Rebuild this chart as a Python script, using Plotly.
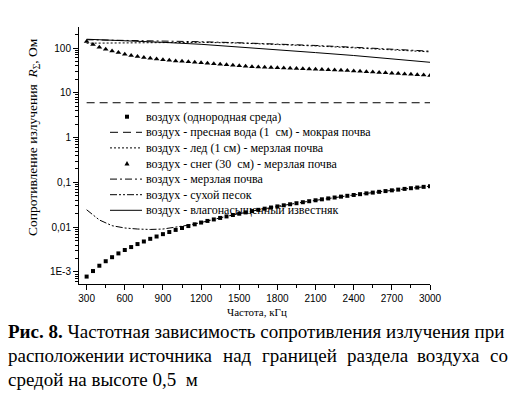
import plotly.graph_objects as go

# ---------------- data ----------------
freq_fine = list(range(300, 3001, 50))          # kHz, marker series
freq_line = [300, 600, 900, 1200, 1500, 1800, 2100, 2400, 2700, 3000]

air_homog = [0.00079, 0.00105, 0.00138, 0.00174, 0.00214, 0.0026, 0.0031, 0.0036, 0.0042, 0.0048,
             0.0055, 0.0062, 0.0070, 0.0078, 0.0087, 0.0096, 0.0106, 0.0116, 0.0127, 0.0138,
             0.0149, 0.0161, 0.0174, 0.0187, 0.0200, 0.0214, 0.0229, 0.0244, 0.0259, 0.0275,
             0.0291, 0.0308, 0.0325, 0.0343, 0.0361, 0.0380, 0.0399, 0.0419, 0.0439, 0.0460,
             0.0481, 0.0502, 0.0524, 0.0546, 0.0569, 0.0592, 0.0616, 0.0640, 0.0665, 0.0690,
             0.0716, 0.0742, 0.0768, 0.0795, 0.0822]

air_snow = [140, 120, 104, 94, 86, 79, 73, 68, 64.5, 61.5,
            59, 57, 55, 53, 51.4, 50.6, 49.6, 48, 46.9, 45.7,
            44.6, 43.4, 42.4, 41.3, 40.2, 39.2, 38.4, 37.8, 37.2, 36.9,
            36.3, 35.9, 35.4, 35.0, 34.5, 34.1, 33.7, 33.3, 32.8, 32.4,
            31.8, 31.3, 30.8, 30.1, 29.6, 29.1, 28.5, 27.9, 27.5, 26.9,
            26.4, 25.9, 25.4, 24.9, 24.4]

air_water = [6.0, 6.0, 6.0, 6.0, 6.0, 6.0, 6.0, 6.0, 6.0, 6.0]
air_ice = [128, 131, 133, 134, 129, 121, 111, 101, 91, 82]
air_frozen = [153, 149, 144, 138, 131, 123, 114, 104, 94, 85]
air_limestone = [157, 146, 134, 121, 106, 92, 79, 68, 57, 48]

freq_sand = [300, 350, 400, 500, 600, 700, 800, 900, 1000, 1100, 1200, 1300, 1400, 1500,
             1600, 1700, 1800, 2000, 2200, 2400, 2600, 2800, 3000]
air_sand = [0.0245, 0.0185, 0.0145, 0.0108, 0.0096, 0.0091, 0.0089, 0.0091, 0.0099, 0.0111,
            0.0127, 0.0150, 0.0175, 0.0201, 0.0229, 0.0259, 0.0292, 0.0362, 0.0441, 0.0525,
            0.0616, 0.0718, 0.0825]

names = ["воздух (однородная среда)",
         "воздух - пресная вода (1  см) - мокрая почва",
         "воздух - лед (1 см) - мерзлая почва",
         "воздух - снег (30  см) - мерзлая почва",
         "воздух - мерзлая почва",
         "воздух - сухой песок",
         "воздух - влагонасыщенный известняк"]

y_tickvals = [0.001, 0.01, 0.1, 1, 10, 100]
y_ticktext = ["1E-3", "0,01", "0,1", "1", "10", "100"]
x_tickvals = [300, 600, 900, 1200, 1500, 1800, 2100, 2400, 2700, 3000]

caption1 = "<b>Рис. 8.</b> Частотная зависимость сопротивления излучения при"
caption2_words = ["расположении", "источника", "над", "границей", "раздела", "воздуха", "со"]
caption3 = "средой на высоте 0,5  м"

# ---------------- figure ----------------
SERIF = "Liberation Serif, Times New Roman, serif"
SANS = "Liberation Sans, Arial, sans-serif"
K = "black"

L, R, T, B = 79, 82, 27, 115
W, H = 512, 399
PW, PH = W - L - R, H - T - B

def px_x(p):
    return (p - L) / PW

def px_y(p):
    return (H - B - p) / PH

styles = [
    dict(kind="marker", symbol="square", size=4),
    dict(kind="line", dash="8px,5px"),
    dict(kind="line", dash="2px,2px"),
    dict(kind="marker", symbol="triangle-up", size=5),
    dict(kind="line", dash="7px,3px,2px,3px"),
    dict(kind="line", dash="7px,2px,2px,2px,2px,2px"),
    dict(kind="line", dash="solid"),
]
xs = [freq_fine, freq_line, freq_line, freq_fine, freq_line, freq_sand, freq_line]
ys = [air_homog, air_water, air_ice, air_snow, air_frozen, air_sand, air_limestone]

fig = go.Figure()
for name, st, x, y in zip(names, styles, xs, ys):
    if st["kind"] == "marker":
        fig.add_trace(go.Scatter(x=x, y=y, mode="markers", name=name, showlegend=False,
                                 marker=dict(symbol=st["symbol"], size=st["size"], color=K)))
    else:
        fig.add_trace(go.Scatter(x=x, y=y, mode="lines", name=name, showlegend=False,
                                 line=dict(color=K, width=1, dash=st["dash"])))

fig.update_layout(
    width=W, height=H,
    margin=dict(l=L, r=R, t=T, b=B, pad=0),
    paper_bgcolor="white", plot_bgcolor="white",
    showlegend=False,
    font=dict(family=SERIF, color=K),
)
fig.update_xaxes(range=[240, 3000], showline=True, linecolor=K, linewidth=1,
                 showgrid=False, zeroline=False, mirror=False,
                 ticks="outside", ticklen=5, tickcolor=K, tickwidth=1,
                 tickmode="array", tickvals=x_tickvals,
                 tickfont=dict(family=SANS, size=10, color=K),
                 minor=dict(ticks="outside", ticklen=3, tickcolor=K, tickwidth=1,
                            tickmode="array",
                            tickvals=[450, 750, 1050, 1350, 1650, 1950, 2250, 2550, 2850]))
minor_y = [m * 10 ** e for e in range(-4, 3) for m in range(2, 10)]
fig.update_yaxes(type="log", range=[-3.268, 2.469], showline=True, linecolor=K, linewidth=1,
                 showgrid=False, zeroline=False, mirror=False,
                 ticks="outside", ticklen=5, tickcolor=K, tickwidth=1,
                 tickmode="array", tickvals=y_tickvals, ticktext=y_ticktext,
                 tickfont=dict(family=SANS, size=10, color=K),
                 minor=dict(ticks="outside", ticklen=3, tickcolor=K, tickwidth=1,
                            tickmode="array", tickvals=minor_y))

# ---- legend (drawn as text + sample symbols, inside the plot) ----
ann = []
shapes = []
SYM_X0, SYM_X1, TXT_X = 110, 142, 144
for i, (name, st) in enumerate(zip(names, styles)):
    yc = 116.7 + 15.6 * i
    ann.append(dict(text=name, xref="paper", yref="paper", x=px_x(TXT_X), y=px_y(yc),
                    xanchor="left", yanchor="middle", showarrow=False,
                    font=dict(family=SERIF, size=12, color=K)))
    if st["kind"] == "line":
        shapes.append(dict(type="line", xref="paper", yref="paper",
                           x0=px_x(SYM_X0), x1=px_x(SYM_X1), y0=px_y(yc), y1=px_y(yc),
                           line=dict(color=K, width=1, dash=st["dash"])))
    elif st["symbol"] == "square":
        cx = (SYM_X0 + SYM_X1) / 2 + 1
        shapes.append(dict(type="rect", xref="paper", yref="paper",
                           x0=px_x(cx - 2), x1=px_x(cx + 2), y0=px_y(yc - 2), y1=px_y(yc + 2),
                           line=dict(width=0), fillcolor=K))
    else:
        cx = (SYM_X0 + SYM_X1) / 2 + 1
        ax0, ay0 = px_x(cx - 2.5), px_y(yc + 2)
        ax1, ay1 = px_x(cx + 2.5), px_y(yc + 2)
        ax2, ay2 = px_x(cx), px_y(yc - 2.5)
        shapes.append(dict(type="path", xref="paper", yref="paper",
                           path=f"M {ax0} {ay0} L {ax1} {ay1} L {ax2} {ay2} Z",
                           line=dict(width=0), fillcolor=K))

CAP = 19
ann.append(dict(text="Сопротивление излучения  <i>R</i><sub>Σ</sub>, Ом", textangle=-90,
                xref="paper", yref="paper", x=px_x(33), y=px_y(137),
                xanchor="center", yanchor="middle", showarrow=False,
                font=dict(family=SERIF, size=13.5, color=K)))
ann.append(dict(text="Частота, кГц", xref="paper", yref="paper", x=px_x(257), y=px_y(312),
                xanchor="center", yanchor="middle", showarrow=False,
                font=dict(family=SERIF, size=11, color=K)))
ann.append(dict(text=caption1, xref="paper", yref="paper", x=px_x(6), y=px_y(331),
                xanchor="left", yanchor="middle", showarrow=False,
                font=dict(family=SERIF, size=CAP, color=K)))
word_x = [6, 127, 221, 260, 345, 415, 488]
for w, xx in zip(caption2_words, word_x):
    ann.append(dict(text=w, xref="paper", yref="paper", x=px_x(xx), y=px_y(355),
                    xanchor="left", yanchor="middle", showarrow=False,
                    font=dict(family=SERIF, size=CAP, color=K)))
ann.append(dict(text=caption3, xref="paper", yref="paper", x=px_x(6), y=px_y(379),
                xanchor="left", yanchor="middle", showarrow=False,
                font=dict(family=SERIF, size=CAP, color=K)))
fig.update_layout(annotations=ann, shapes=shapes)

fig.write_html("out.html", config={"displayModeBar": False},
               post_script="document.body.style.margin='0';")
